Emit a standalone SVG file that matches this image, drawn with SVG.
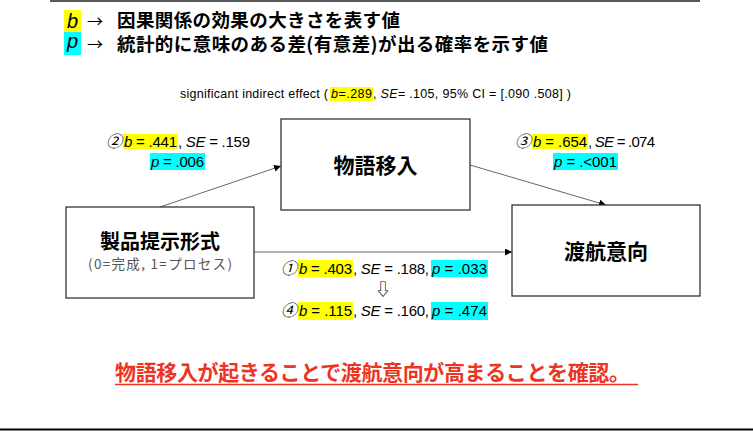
<svg xmlns="http://www.w3.org/2000/svg" width="753" height="431" viewBox="0 0 753 431">
<style>
.jp{font-family:"Noto Sans CJK JP","Liberation Sans",sans-serif;}
.lat{font-family:"Liberation Sans",Arial,sans-serif;font-size:15px;fill:#000;}
.it{font-style:italic;}
.num{font-family:"Noto Sans CJK JP","Liberation Sans",sans-serif;font-size:16px;font-style:italic;}
.box{fill:#fff;stroke:#333;stroke-width:1.3;}
.conn{stroke:#666;stroke-width:1;fill:none;}
.yel{fill:#ffff00;}
.cya{fill:#00ffff;}
</style>
<defs>
<marker id="ah" viewBox="0 0 10 10" refX="10" refY="5" markerWidth="7" markerHeight="7" orient="auto" markerUnits="userSpaceOnUse">
<path d="M0,0 L10,5 L0,10 z" fill="#000"/>
</marker>
</defs>
<rect width="753" height="431" fill="#fff"/>
<line x1="50" y1="1" x2="700" y2="1" stroke="#595959" stroke-width="2"/>
<line x1="0" y1="429.5" x2="753" y2="429.5" stroke="#000" stroke-width="2"/>

<g id="legend">
<rect class="yel" x="64" y="10" width="17" height="22"/>
<text x="72.5" y="28" class="lat it" text-anchor="middle" style="font-size:20px">b</text>
<text x="87" y="27" class="jp" font-size="16">→</text>
<text x="117" y="27" class="jp" font-size="18.5" font-weight="bold" textLength="283">因果関係の効果の大きさを表す値</text>
<rect class="cya" x="64" y="32" width="17" height="23"/>
<text x="72.5" y="48" class="lat it" text-anchor="middle" style="font-size:20px">p</text>
<text x="87" y="50" class="jp" font-size="16">→</text>
<text x="117" y="51" class="jp" font-size="18.5" font-weight="bold" textLength="431">統計的に意味のある差(有意差)が出る確率を示す値</text>
</g>

<g id="indirect">
<rect class="yel" x="330" y="87" width="43" height="14"/>
<text x="180" y="98" class="lat" style="font-size:12.5px" textLength="148">significant indirect effect (</text>
<text x="331" y="98" class="lat" style="font-size:12.5px" textLength="41"><tspan class="it">b</tspan>=.289</text>
<text x="373" y="98" class="lat" style="font-size:12.5px" textLength="198">, <tspan class="it">SE</tspan>= .105, 95% CI =  [.090 .508]  )</text>
</g>

<g id="connectors">
<line class="conn" x1="160" y1="207" x2="281" y2="166" marker-end="url(#ah)"/>
<line class="conn" x1="470" y1="165" x2="606" y2="205" marker-end="url(#ah)"/>
<line class="conn" x1="254" y1="252" x2="512" y2="252" marker-end="url(#ah)"/>
</g>

<g id="node-monogatari">
<rect class="box" x="281" y="119" width="189" height="91"/>
<text x="375.5" y="173" class="jp" font-size="21" font-weight="bold" text-anchor="middle">物語移入</text>
</g>
<g id="node-tokou">
<rect class="box" x="512" y="205" width="188" height="91"/>
<text x="606" y="259" class="jp" font-size="21" font-weight="bold" text-anchor="middle">渡航意向</text>
</g>
<g id="node-seihin">
<rect class="box" x="66" y="207" width="188" height="91"/>
<text x="160" y="249" class="jp" font-size="20" font-weight="bold" text-anchor="middle">製品提示形式</text>
<text x="160" y="269" class="jp" font-size="13.5" fill="#555" text-anchor="middle" textLength="144">(0=完成, 1=プロセス)</text>
</g>

<g id="label-a">
<rect class="yel" x="123" y="134" width="55" height="15"/>
<text x="106" y="147" class="num">②</text>
<text x="124" y="147" class="lat" textLength="53"><tspan class="it">b</tspan> = .441</text>
<text x="178" y="147" class="lat" textLength="72">, <tspan class="it">SE</tspan> = .159</text>
<rect class="cya" x="150" y="153" width="55" height="17"/>
<text x="151" y="167" class="lat" textLength="53"><tspan class="it">p</tspan> = .006</text>
</g>

<g id="label-b">
<rect class="yel" x="532" y="134" width="56" height="15"/>
<text x="515" y="147" class="num">③</text>
<text x="533" y="147" class="lat" textLength="54"><tspan class="it">b</tspan> = .654</text>
<text x="588" y="147" class="lat" textLength="67">, <tspan class="it">SE</tspan> = .074</text>
<rect class="cya" x="553" y="153" width="65" height="17"/>
<text x="554" y="167" class="lat" textLength="63"><tspan class="it">p</tspan> = .&lt;001</text>
</g>

<g id="label-c">
<rect class="yel" x="298" y="260" width="55" height="17"/>
<text x="281" y="274" class="num">①</text>
<text x="299" y="274" class="lat" textLength="53"><tspan class="it">b</tspan> = .403</text>
<text x="353" y="274" class="lat" textLength="76">, <tspan class="it">SE</tspan> = .188,</text>
<rect class="cya" x="431" y="260" width="57" height="17"/>
<text x="432" y="274" class="lat" textLength="55"><tspan class="it">p</tspan> = .033</text>
<text x="383" y="295" class="jp" font-size="16" text-anchor="middle">⇩</text>
<rect class="yel" x="298" y="302" width="55" height="18"/>
<text x="281" y="316" class="num">④</text>
<text x="299" y="316" class="lat" textLength="53"><tspan class="it">b</tspan> = .115</text>
<text x="353" y="316" class="lat" textLength="76">, <tspan class="it">SE</tspan> = .160,</text>
<rect class="cya" x="431" y="302" width="57" height="18"/>
<text x="432" y="316" class="lat" textLength="55"><tspan class="it">p</tspan> = .474</text>
</g>

<g id="conclusion">
<text x="115" y="380" class="jp" font-size="21" font-weight="bold" fill="#ee3322" textLength="515">物語移入が起きることで渡航意向が高まることを確認。</text>
<line x1="115" y1="384.5" x2="638" y2="384.5" stroke="#ee3322" stroke-width="1.5"/>
</g>
</svg>
